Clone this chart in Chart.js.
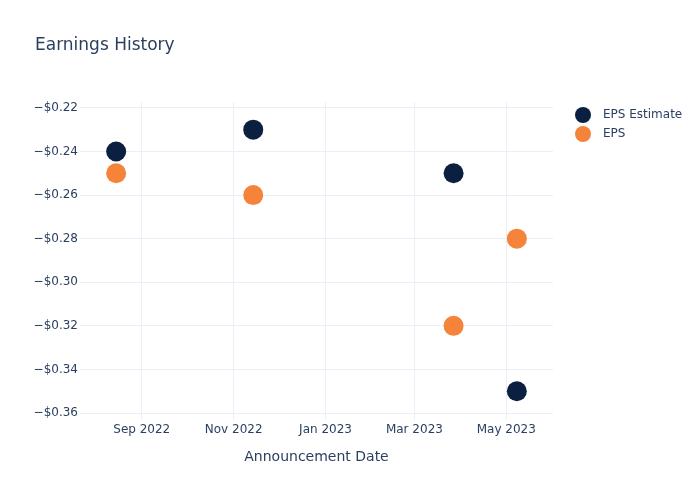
<!DOCTYPE html>
<html>
<head>
<meta charset="utf-8">
<script src="https://cdn.jsdelivr.net/npm/chart.js@4.4.1/dist/chart.umd.min.js"></script>
<style>
  html, body { margin: 0; padding: 0; background: #fff; }
  #wrap { width: 700px; height: 500px; }
</style>
</head>
<body>
<div id="wrap"><canvas id="epsChart" width="700" height="500"></canvas></div>
<script>
// announcement dates and values
const dates = ['2022-08-15', '2022-11-14', '2023-03-27', '2023-05-08'];
const epsEstimate = [-0.24, -0.23, -0.25, -0.35];
const epsActual = [-0.25, -0.26, -0.32, -0.28];

const xTickDates = ['2022-09-01', '2022-11-01', '2023-01-01', '2023-03-01', '2023-05-01'];
const xTickLabels = ['Sep 2022', 'Nov 2022', 'Jan 2023', 'Mar 2023', 'May 2023'];
const yTicks = [-0.36, -0.34, -0.32, -0.30, -0.28, -0.26, -0.24, -0.22];

const toMs = d => Date.parse(d + 'T00:00:00Z');
const seriesNames = ['EPS Estimate', 'EPS'];
const seriesColors = ['#0b1f40', '#f5833a'];

const textColor = '#2a3f5f';
const gridColor = '#ebf0f8';
const fontFamily = '"DejaVu Sans", verdana, arial, sans-serif';

// title + legend drawn the plotly way
const decorPlugin = {
  id: 'decor',
  afterDraw(chart) {
    const ctx = chart.ctx;
    ctx.save();
    ctx.fillStyle = textColor;
    ctx.font = '17px ' + fontFamily;
    ctx.textBaseline = 'middle';
    ctx.textAlign = 'left';
    ctx.fillText('Earnings History', 35, 46);

    ctx.font = '12px ' + fontFamily;
    seriesNames.forEach((name, i) => {
      const y = 115 + i * 19;
      ctx.beginPath();
      ctx.arc(583, y, 8, 0, Math.PI * 2);
      ctx.fillStyle = seriesColors[i];
      ctx.fill();
      ctx.fillStyle = textColor;
      ctx.fillText(name, 603, y);
    });
    ctx.restore();
  }
};

const ctx = document.getElementById('epsChart').getContext('2d');
new Chart(ctx, {
  type: 'scatter',
  data: {
    datasets: [
      {
        label: seriesNames[0],
        data: dates.map((d, i) => ({ x: toMs(d), y: epsEstimate[i] })),
        backgroundColor: seriesColors[0],
        borderWidth: 0,
        pointRadius: 10,
        pointHoverRadius: 10
      },
      {
        label: seriesNames[1],
        data: dates.map((d, i) => ({ x: toMs(d), y: epsActual[i] })),
        backgroundColor: seriesColors[1],
        borderWidth: 0,
        pointRadius: 10,
        pointHoverRadius: 10
      }
    ]
  },
  options: {
    responsive: false,
    animation: false,
    layout: { padding: { top: 102, right: 147, bottom: 0, left: 0 } },
    plugins: {
      legend: { display: false },
      tooltip: { enabled: false }
    },
    scales: {
      x: {
        type: 'linear',
        min: toMs('2022-07-22'),
        max: toMs('2023-06-01'),
        afterBuildTicks: scale => {
          scale.ticks = xTickDates.map(d => ({ value: toMs(d) }));
        },
        afterFit: scale => { scale.height = 80; },
        grid: { color: gridColor, drawTicks: false },
        border: { display: false },
        ticks: {
          padding: 3,
          color: textColor,
          font: { family: fontFamily, size: 12 },
          maxRotation: 0,
          callback: (v) => xTickLabels[xTickDates.map(toMs).indexOf(v)]
        },
        title: {
          display: true,
          text: 'Announcement Date',
          color: textColor,
          font: { family: fontFamily, size: 14 },
          padding: { top: 0, bottom: 34 }
        }
      },
      y: {
        min: -0.3632,
        max: -0.2173,
        afterBuildTicks: scale => {
          scale.ticks = yTicks.map(v => ({ value: v }));
        },
        afterFit: scale => { scale.width = 80; },
        grid: { color: gridColor, drawTicks: false },
        border: { display: false },
        ticks: {
          padding: 2,
          color: textColor,
          font: { family: fontFamily, size: 12 },
          callback: v => '\u2212$' + Math.abs(v).toFixed(2)
        }
      }
    }
  },
  plugins: [decorPlugin]
});
</script>
</body>
</html>
